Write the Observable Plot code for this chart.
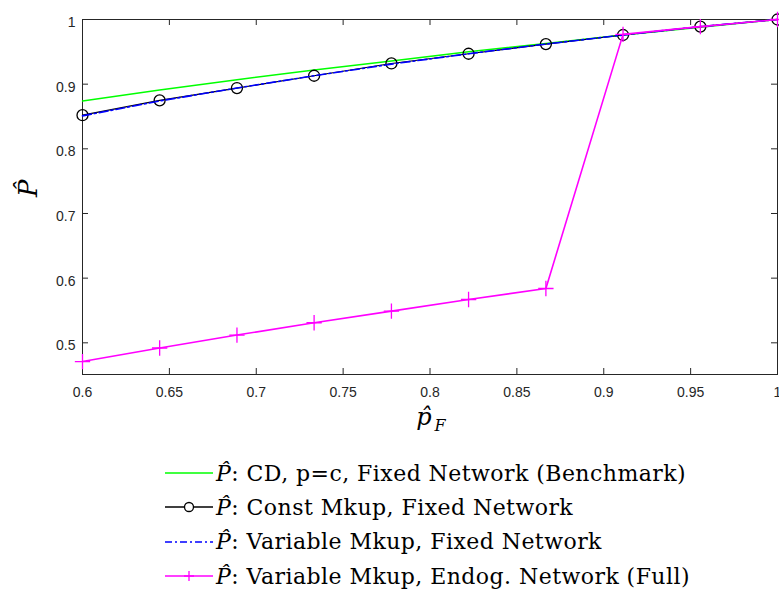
<!DOCTYPE html>
<html>
<head>
<meta charset="utf-8">
<script src="https://cdn.jsdelivr.net/npm/d3@7"></script>
<script src="https://cdn.jsdelivr.net/npm/@observablehq/plot@0.6"></script>
<style>
  html, body { margin: 0; padding: 0; background: #fff; }
  #chart { width: 779px; }
  .legend { margin-top: 16px; font-family: "DejaVu Serif", "Liberation Serif", serif; font-size: 22px; letter-spacing: 0.45px; color: #000; }
  .legend .row { height: 34.3px; display: flex; align-items: center; padding-left: 165px; white-space: nowrap; }
  .legend svg { flex: none; margin-right: 3px; }
  .legend i { font-style: italic; }
</style>
</head>
<body>
<div id="chart"></div>
<script>
// Share of firms (p̂_F) on the x axis
const pF = [0.6, 0.6444, 0.6889, 0.7333, 0.7778, 0.8222, 0.8667, 0.9111, 0.9556, 1.0];
// P̂ under each model specification
const benchmark   = [0.874, 0.891, 0.907, 0.922, 0.936, 0.950, 0.963, 0.976, 0.988, 1.0];
const constMkup   = [0.852, 0.875, 0.894, 0.913, 0.932, 0.947, 0.962, 0.976, 0.989, 1.0];
const varMkupFix  = [0.851, 0.874, 0.894, 0.913, 0.931, 0.947, 0.962, 0.976, 0.989, 1.0];
const varMkupFull = [0.471, 0.492, 0.512, 0.531, 0.549, 0.567, 0.584, 0.977, 0.989, 1.0];
// Axis ticks
const xTicks = [0.6, 0.65, 0.7, 0.75, 0.8, 0.85, 0.9, 0.95, 1];
const yTicks = [0.5, 0.6, 0.7, 0.8, 0.9, 1];

const seriesNames = [
  "CD, p=c, Fixed Network (Benchmark)",
  "Const Mkup, Fixed Network",
  "Variable Mkup, Fixed Network",
  "Variable Mkup, Endog. Network (Full)"
];

const W = 779, H = 440, mL = 82, mR = 2, mT = 19, mB = 66;
const plotW = W - mL - mR, plotH = H - mT - mB;
const ink = "#262626";
const tickLen = 6;
const serif = "'DejaVu Serif', 'Liberation Serif', serif";

const rows = (ys) => pF.map((x, i) => ({x, y: ys[i]}));
const fmt = d => String(+d.toFixed(2));

const chart = Plot.plot({
  width: W, height: H,
  marginLeft: mL, marginRight: mR, marginTop: mT, marginBottom: mB,
  style: {fontFamily: "'Liberation Sans', Arial, sans-serif", fontSize: "14px", color: ink, background: "#fff", overflow: "visible"},
  x: {domain: [0.6, 1]},
  y: {domain: [0.451, 1]},
  marks: [
    Plot.frame({stroke: ink, strokeWidth: 1}),
    // inward ticks on all four sides
    Plot.tickX(xTicks, {x: d => d, insetTop: plotH - tickLen, stroke: ink}),
    Plot.tickX(xTicks, {x: d => d, insetBottom: plotH - tickLen, stroke: ink}),
    Plot.tickY(yTicks, {y: d => d, insetRight: plotW - tickLen, stroke: ink}),
    Plot.tickY(yTicks, {y: d => d, insetLeft: plotW - tickLen, stroke: ink}),
    Plot.axisX({ticks: xTicks, tickFormat: fmt, tickSize: 0, tickPadding: 13, label: null, fill: ink}),
    Plot.axisY({ticks: yTicks, tickFormat: fmt, tickSize: 0, tickPadding: 7, dy: 3, label: null, fill: ink}),

    // series
    Plot.line(rows(benchmark), {x: "x", y: "y", stroke: "#00ff00", strokeWidth: 1.5}),
    Plot.line(rows(constMkup), {x: "x", y: "y", stroke: "#000", strokeWidth: 1.2}),
    Plot.dot(rows(constMkup), {x: "x", y: "y", r: 5.5, stroke: "#000", fill: "none", strokeWidth: 1.3}),
    Plot.line(rows(varMkupFix), {x: "x", y: "y", stroke: "#0000ff", strokeWidth: 1.6, strokeDasharray: "9,3,2,3"}),
    Plot.line(rows(varMkupFull), {x: "x", y: "y", stroke: "#ff00ff", strokeWidth: 1.6}),
    Plot.dot(rows(varMkupFull), {x: "x", y: "y", symbol: "plus", r: 5, stroke: "#ff00ff", strokeWidth: 1.3}),

    // axis titles
    Plot.text(["P\u0302"], {frameAnchor: "left", dx: -54, rotate: -90, fontFamily: serif, fontStyle: "italic", fontSize: 26, fill: "#000"}),
    Plot.text(["p\u0302"], {frameAnchor: "bottom", dx: -6, dy: 50, fontFamily: serif, fontStyle: "italic", fontSize: 24, fill: "#000"}),
    Plot.text(["F"], {frameAnchor: "bottom", dx: 10, dy: 56, fontFamily: serif, fontStyle: "italic", fontSize: 16, fill: "#000"})
  ]
});
document.getElementById("chart").appendChild(chart);

// Legend below the axes
const legend = d3.select("#chart").append("div").attr("class", "legend");
const swatches = [
  {stroke: "#00ff00", dash: null, marker: null},
  {stroke: "#000", dash: null, marker: "circle"},
  {stroke: "#0000ff", dash: "7,3,2,3", marker: null},
  {stroke: "#ff00ff", dash: null, marker: "plus"}
];
seriesNames.forEach((name, i) => {
  const s = swatches[i];
  const row = legend.append("div").attr("class", "row");
  const svg = row.append("svg").attr("width", 48).attr("height", 20);
  svg.append("line").attr("x1", 0).attr("x2", 48).attr("y1", 10).attr("y2", 10)
    .attr("stroke", s.stroke).attr("stroke-width", 1.5)
    .attr("stroke-dasharray", s.dash);
  if (s.marker === "circle") {
    svg.append("circle").attr("cx", 24).attr("cy", 10).attr("r", 4.5)
      .attr("fill", "#fff").attr("stroke", "#000").attr("stroke-width", 1.3);
  } else if (s.marker === "plus") {
    svg.append("path").attr("d", "M19,10H29M24,5V15").attr("stroke", s.stroke).attr("stroke-width", 1.3);
  }
  const label = row.append("span");
  label.append("i").text("P\u0302");
  label.append("span").text(": " + name);
});
</script>
</body>
</html>
